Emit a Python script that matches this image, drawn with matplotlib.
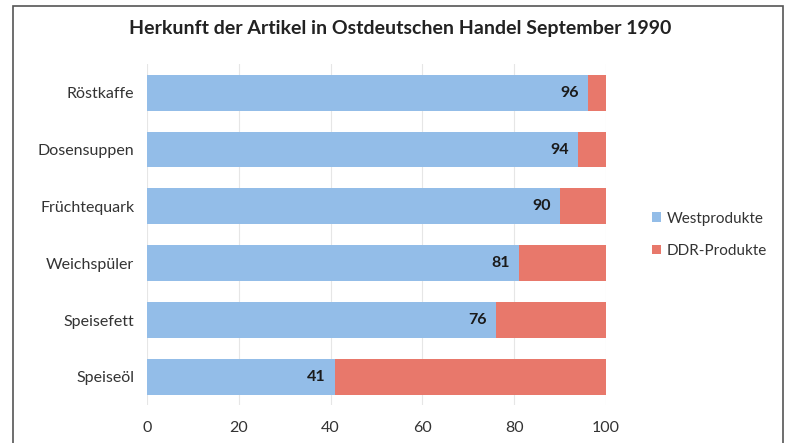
import matplotlib
matplotlib.use("Agg")
import matplotlib.pyplot as plt
from matplotlib.patches import Rectangle

categories = ["Röstkaffe", "Dosensuppen", "Früchtequark", "Weichspüler", "Speisefett", "Speiseöl"]
west = [96, 94, 90, 81, 76, 41]
ddr = [100 - v for v in west]

plt.rcParams["font.family"] = ["Lato", "DejaVu Sans"]

fig = plt.figure(figsize=(7.9, 4.43), dpi=100)
ax = fig.add_axes([0.186, 0.085, 0.581, 0.770])

blue = "#93BDE8"
red = "#E8786B"
y = list(range(len(categories)))[::-1]
ax.barh(y, west, height=0.63, color=blue, label="Westprodukte", zorder=2)
ax.barh(y, ddr, left=west, height=0.63, color=red, label="DDR-Produkte", zorder=2)

for yi, v in zip(y, west):
    ax.text(v - 2, yi, str(v), ha="right", va="center", fontsize=11.5,
            fontweight="bold", color="#1a1a1a", zorder=3)

ax.set_xlim(0, 100)
ax.set_ylim(-0.5, 5.5)
ax.set_yticks(y)
ax.set_yticklabels(categories, fontsize=11.5, color="#333333")
ax.set_xticks([0, 20, 40, 60, 80, 100])
ax.tick_params(axis="x", labelsize=11.5, colors="#333333", length=0, pad=11)
ax.tick_params(axis="y", length=0, pad=9)
ax.grid(axis="x", color="#e6e6e6", linewidth=0.8, zorder=0)
for s in ax.spines.values():
    s.set_visible(False)

fig.suptitle("Herkunft der Artikel in Ostdeutschen Handel September 1990",
             x=0.507, y=0.955, fontsize=14, fontweight="bold", color="#222222")

ax.legend(loc="center left", bbox_to_anchor=(1.07, 0.5), frameon=False,
          fontsize=11, handlelength=0.6, handleheight=0.6, labelspacing=1.2,
          handletextpad=0.4, labelcolor="#333333")

fig.patches.append(Rectangle((0.016, -0.01), 0.975, 0.997, transform=fig.transFigure,
                             fill=False, edgecolor="#555555", linewidth=1.2))

fig.savefig("out.png", dpi=100)
